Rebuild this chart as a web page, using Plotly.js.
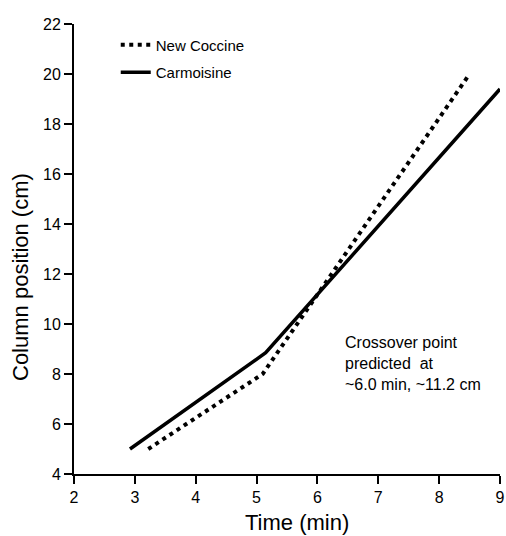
<!DOCTYPE html>
<html>
<head>
<meta charset="utf-8">
<script src="https://cdn.plot.ly/plotly-3.0.1.min.js"></script>
<style>html,body{margin:0;padding:0;background:#fff;}</style>
</head>
<body>
<div id="chart" style="width:506px;height:536px;"></div>
<script>
// Data
var newCoccineTime = [3.22, 5.1, 8.5];
var newCoccinePos  = [5.0, 8.0, 20.0];
var carmoisineTime = [2.92, 5.15, 9.0];
var carmoisinePos  = [5.0, 8.85, 19.4];
var seriesNames = ["New Coccine", "Carmoisine"];
var xTicks = [2, 3, 4, 5, 6, 7, 8, 9];
var yTicks = [4, 6, 8, 10, 12, 14, 16, 18, 20, 22];
var xTitle = "Time (min)";
var yTitle = "Column position (cm)";
var noteText = "Crossover point<br>predicted  at<br>~6.0 min, ~11.2 cm";

var FONT = "Liberation Sans, Arial, Helvetica, sans-serif";
var W = 506, H = 536, M = {l: 74, r: 6, t: 24, b: 62};
var plotW = W - M.l - M.r, plotH = H - M.t - M.b;
function px2paperX(px) { return (px - M.l) / plotW; }
function px2paperY(py) { return (H - M.b - py) / plotH; }

var traces = [
  {x: newCoccineTime, y: newCoccinePos, name: seriesNames[0], mode: "lines",
   legendgroup: "a",
   line: {color: "#000", width: 4, dash: "4px,4.5px"}},
  {x: carmoisineTime, y: carmoisinePos, name: seriesNames[1], mode: "lines",
   legendgroup: "b",
   line: {color: "#000", width: 3.5}}
];

var axisCommon = {
  showline: true, linecolor: "#000", linewidth: 2,
  ticks: "outside", ticklen: 8, tickwidth: 2, tickcolor: "#000",
  showgrid: false, zeroline: false,
  tickfont: {family: FONT, size: 16, color: "#000"}
};

var layout = {
  width: W, height: H,
  margin: M,
  paper_bgcolor: "#fff", plot_bgcolor: "#fff",
  font: {family: FONT, color: "#000"},
  xaxis: Object.assign({}, axisCommon, {
    range: [2, 9], tickvals: xTicks, ticktext: xTicks.map(String)
  }),
  yaxis: Object.assign({}, axisCommon, {
    range: [4, 22], tickvals: yTicks, ticktext: yTicks.map(String)
  }),
  showlegend: true,
  legend: {
    x: 0.098, y: 0.99, xanchor: "left", yanchor: "top",
    bgcolor: "rgba(0,0,0,0)", borderwidth: 0,
    font: {family: FONT, size: 15, color: "#000"},
    tracegroupgap: 5
  },
  annotations: [
    {
      x: 6.42, y: 8.44, xref: "x", yref: "y",
      xanchor: "left", yanchor: "middle", align: "left",
      showarrow: false, text: noteText,
      font: {family: FONT, size: 16, color: "#000"}
    },
    {
      x: px2paperX(20), y: px2paperY(277), xref: "paper", yref: "paper",
      xanchor: "center", yanchor: "middle",
      text: yTitle, textangle: -90, showarrow: false,
      font: {family: FONT, size: 22, color: "#000"}
    },
    {
      x: px2paperX(297), y: px2paperY(522), xref: "paper", yref: "paper",
      xanchor: "center", yanchor: "middle",
      text: xTitle, showarrow: false,
      font: {family: FONT, size: 22, color: "#000"}
    }
  ]
};

Plotly.newPlot("chart", traces, layout, {displayModeBar: false, staticPlot: true});
</script>
</body>
</html>
